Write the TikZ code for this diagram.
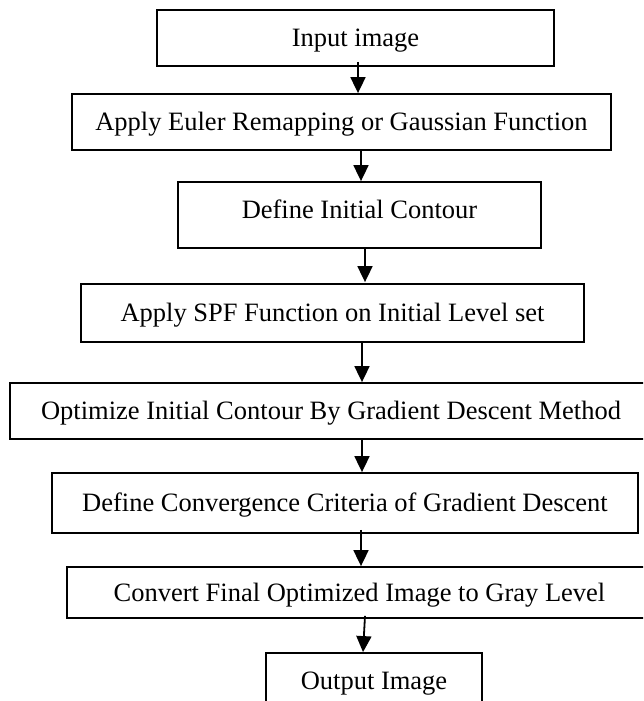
\documentclass[tikz,border=0pt]{standalone}
\usepackage{fontspec}
\setmainfont{Liberation Serif}
\usetikzlibrary{arrows.meta}

\begin{document}
\begin{tikzpicture}[x=1pt,y=1pt,
  stepbox/.style={draw=black, line width=1.8pt, fill=white, inner sep=0pt,
    text height=17.5pt, text depth=0pt, align=center,
    font=\fontsize{26.5}{30}\selectfont},
  flow/.style={line width=1.8pt, -{Triangle[length=16pt,width=15pt]}}]

  % page frame; boxes running past the edge are cut off
  \clip (0,0) rectangle (643,-701);
  \fill[white] (0,0) rectangle (643,-701);

  % process steps
  \node[stepbox, minimum width=397pt, minimum height=56pt] (n1) at (355.5,-38) {Input image};
  \node[stepbox, minimum width=539pt, minimum height=56pt] (n2) at (341.5,-122) {Apply Euler Remapping or Gaussian Function};
  \node[stepbox, minimum width=363pt, minimum height=66pt] (n3) at (359.5,-215) {\raisebox{5pt}{Define Initial Contour}};
  \node[stepbox, minimum width=503pt, minimum height=58pt] (n4) at (332.5,-313) {Apply SPF Function on Initial Level set};
  \node[stepbox, minimum width=642pt, minimum height=56pt] (n5) at (331,-411) {Optimize Initial Contour By Gradient Descent Method};
  \node[stepbox, minimum width=586pt, minimum height=60pt] (n6) at (345,-503) {Define Convergence Criteria of Gradient Descent};
  \node[stepbox, minimum width=585pt, minimum height=51pt] (n7) at (359.5,-592.5) {Convert Final Optimized Image to Gray Level};
  \node[stepbox, minimum width=216pt, minimum height=56pt] (n8) at (374,-681) {Output Image};

  % columns of the connectors
  \coordinate (c1) at (358,0);
  \coordinate (c2) at (361,0);
  \coordinate (c3) at (365,0);
  \coordinate (c4) at (362,0);
  \coordinate (c5) at (362,0);
  \coordinate (c6) at (361,0);
  \coordinate (c7) at (365,0);
  \coordinate (c7b) at (363,0);

  % connectors
  \draw[flow] ([yshift=5pt]c1 |- n1.south) -- (c1 |- n2.north);
  \draw[flow] (c2 |- n2.south) -- (c2 |- n3.north);
  \draw[flow] (c3 |- n3.south) -- ([yshift=1pt]c3 |- n4.north);
  \draw[flow] (c4 |- n4.south) -- (c4 |- n5.north);
  \draw[flow] (c5 |- n5.south) -- (c5 |- n6.north);
  \draw[flow] ([yshift=4pt]c6 |- n6.south) -- (c6 |- n7.north);
  \draw[flow] ([yshift=3pt]c7 |- n7.south) -- (c7b |- n8.north);
\end{tikzpicture}
\end{document}
